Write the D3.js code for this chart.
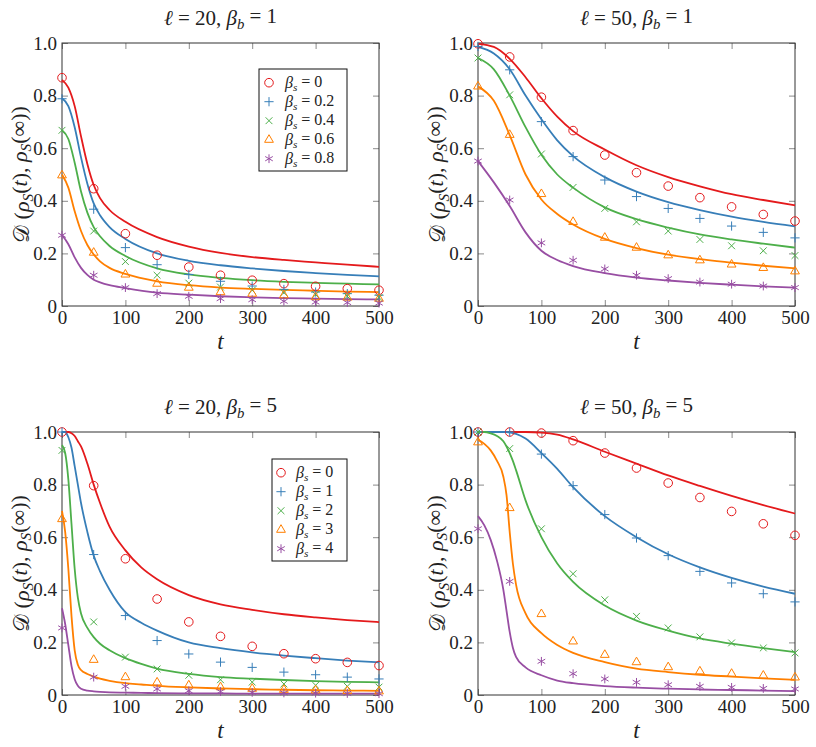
<!DOCTYPE html>
<html>
<head>
<meta charset="utf-8">
<script src="https://cdn.jsdelivr.net/npm/d3@7"></script>
</head>
<body style="margin:0">
<svg id="chart" width="816" height="747"></svg>
<script>
// Times where the simulation markers sit (same for every panel)
var markerT = [0, 50, 100, 150, 200, 250, 300, 350, 400, 450, 500];
var colors = ["#e41a1c", "#377eb8", "#4daf4a", "#ff7f00", "#984ea3"];
var xTicks = [0, 100, 200, 300, 400, 500];
var yTicks = [0, 0.2, 0.4, 0.6, 0.8, 1.0];
var yTickLabels = ["0", "0.2", "0.4", "0.6", "0.8", "1.0"];

// Panel 1: l = 20, beta_b = 1
var p1Beta = ["0", "0.2", "0.4", "0.6", "0.8"];
var p1LineT = [0, 10, 20, 30, 40, 50, 60, 75, 100, 150, 200, 250, 300, 350, 400, 450, 500];
var p1Lines = [
  [0.86, 0.83, 0.76, 0.645, 0.54, 0.46, 0.41, 0.365, 0.32, 0.262, 0.226, 0.202, 0.186, 0.175, 0.166, 0.157, 0.149],
  [0.79, 0.76, 0.68, 0.565, 0.465, 0.39, 0.345, 0.3, 0.255, 0.2, 0.172, 0.155, 0.143, 0.133, 0.125, 0.118, 0.113],
  [0.668, 0.635, 0.545, 0.435, 0.355, 0.3, 0.265, 0.228, 0.19, 0.143, 0.12, 0.107, 0.098, 0.092, 0.088, 0.085, 0.082],
  [0.5, 0.45, 0.36, 0.285, 0.232, 0.196, 0.17, 0.145, 0.122, 0.094, 0.079, 0.07, 0.065, 0.061, 0.058, 0.055, 0.053],
  [0.27, 0.235, 0.185, 0.145, 0.118, 0.1, 0.09, 0.079, 0.068, 0.051, 0.043, 0.037, 0.033, 0.03, 0.028, 0.026, 0.025]
];
var p1Marks = [
  [0.868, 0.446, 0.275, 0.193, 0.148, 0.117, 0.098, 0.085, 0.075, 0.066, 0.06],
  [0.788, 0.368, 0.222, 0.157, 0.12, 0.094, 0.076, 0.063, 0.053, 0.047, 0.041],
  [0.668, 0.285, 0.169, 0.117, 0.087, 0.072, 0.06, 0.051, 0.043, 0.037, 0.032],
  [0.497, 0.203, 0.12, 0.085, 0.07, 0.053, 0.047, 0.041, 0.034, 0.032, 0.028],
  [0.269, 0.117, 0.07, 0.047, 0.037, 0.028, 0.024, 0.018, 0.015, 0.013, 0.011]
];

// Panel 2: l = 50, beta_b = 1
var p2LineT = [0, 25, 50, 75, 100, 125, 150, 200, 250, 300, 350, 400, 450, 500];
var p2Lines = [
  [0.997, 0.985, 0.94, 0.87, 0.79, 0.72, 0.665, 0.595, 0.535, 0.49, 0.455, 0.425, 0.403, 0.383],
  [0.985, 0.96, 0.9, 0.8, 0.71, 0.63, 0.57, 0.49, 0.435, 0.395, 0.365, 0.34, 0.32, 0.303],
  [0.943, 0.9, 0.8, 0.68, 0.575, 0.5, 0.45, 0.375, 0.33, 0.298, 0.272, 0.253, 0.237, 0.222],
  [0.835, 0.78, 0.65, 0.5, 0.405, 0.35, 0.31, 0.255, 0.22, 0.195, 0.178, 0.165, 0.153, 0.143],
  [0.551, 0.47, 0.38, 0.28, 0.21, 0.175, 0.152, 0.125, 0.108, 0.097, 0.088, 0.081, 0.075, 0.07]
];
var p2Marks = [
  [0.997, 0.947, 0.794, 0.667, 0.574, 0.507, 0.456, 0.412, 0.377, 0.348, 0.323],
  [0.987, 0.898, 0.701, 0.568, 0.479, 0.416, 0.371, 0.333, 0.304, 0.28, 0.259],
  [0.943, 0.803, 0.578, 0.451, 0.371, 0.32, 0.285, 0.253, 0.229, 0.21, 0.192],
  [0.835, 0.651, 0.426, 0.32, 0.26, 0.222, 0.193, 0.174, 0.158, 0.145, 0.132],
  [0.551, 0.403, 0.24, 0.174, 0.141, 0.117, 0.104, 0.091, 0.083, 0.076, 0.07]
];

// Panel 3: l = 20, beta_b = 5
var p3Beta = ["0", "1", "2", "3", "4"];
var p3LineT = [0, 5, 10, 15, 20, 25, 30, 40, 50, 60, 75, 100, 125, 150, 200, 250, 300, 350, 400, 450, 500];
var p3Lines = [
  [1.0, 1.0, 1.0, 0.995, 0.985, 0.965, 0.945, 0.88, 0.8, 0.73, 0.64, 0.55, 0.485, 0.44, 0.38, 0.345, 0.324, 0.307, 0.295, 0.285, 0.277],
  [1.0, 1.0, 0.98, 0.94, 0.87, 0.8, 0.73, 0.62, 0.53, 0.47, 0.4, 0.315, 0.275, 0.245, 0.2, 0.178, 0.162, 0.15, 0.14, 0.131, 0.124],
  [0.95, 0.92, 0.82, 0.65, 0.48, 0.37, 0.31, 0.255, 0.22, 0.195, 0.17, 0.14, 0.118, 0.1, 0.08, 0.068, 0.062, 0.057, 0.053, 0.05, 0.048],
  [0.7, 0.62, 0.48, 0.3, 0.17, 0.115, 0.095, 0.08, 0.07, 0.062, 0.054, 0.045, 0.04, 0.035, 0.029, 0.025, 0.022, 0.02, 0.018, 0.017, 0.016],
  [0.33, 0.27, 0.19, 0.11, 0.06, 0.035, 0.024, 0.017, 0.014, 0.012, 0.01, 0.009, 0.008, 0.007, 0.006, 0.006, 0.005, 0.005, 0.005, 0.005, 0.005]
];
var p3Marks = [
  [1.0, 0.796, 0.518, 0.365, 0.278, 0.223, 0.185, 0.157, 0.138, 0.124, 0.112],
  [1.0, 0.534, 0.302, 0.207, 0.156, 0.125, 0.105, 0.087, 0.077, 0.068, 0.061],
  [0.93, 0.278, 0.144, 0.099, 0.075, 0.058, 0.049, 0.042, 0.037, 0.033, 0.03],
  [0.669, 0.134, 0.068, 0.048, 0.037, 0.03, 0.024, 0.02, 0.018, 0.015, 0.014],
  [0.255, 0.068, 0.033, 0.023, 0.016, 0.013, 0.01, 0.008, 0.007, 0.006, 0.005]
];

// Panel 4: l = 50, beta_b = 5
var p4LineT = [0, 10, 20, 30, 40, 45, 50, 55, 60, 75, 100, 125, 150, 200, 250, 300, 350, 400, 450, 500];
var p4Lines = [
  [1, 1, 1, 1, 1, 1, 1, 1, 1, 1, 0.998, 0.99, 0.972, 0.925, 0.88, 0.835, 0.795, 0.757, 0.722, 0.69],
  [1, 1, 1, 1, 1, 1, 0.998, 0.996, 0.993, 0.975, 0.92, 0.86, 0.79, 0.68, 0.6, 0.535, 0.485, 0.445, 0.412, 0.385],
  [1, 1, 0.995, 0.985, 0.965, 0.945, 0.92, 0.89, 0.855, 0.74, 0.6, 0.5, 0.43, 0.34, 0.283, 0.245, 0.215, 0.195, 0.178, 0.163],
  [0.97, 0.955, 0.93, 0.89, 0.83, 0.76, 0.62, 0.5, 0.42, 0.31, 0.235, 0.19, 0.16, 0.125, 0.1, 0.087, 0.077, 0.07, 0.063, 0.058],
  [0.68, 0.645, 0.59, 0.51, 0.4, 0.32, 0.24, 0.18, 0.145, 0.105, 0.075, 0.055, 0.045, 0.034, 0.028, 0.024, 0.021, 0.019, 0.017, 0.015]
];
var p4Marks = [
  [1.0, 1.0, 0.996, 0.967, 0.92, 0.863, 0.806, 0.751, 0.698, 0.651, 0.607],
  [1.0, 1.0, 0.916, 0.796, 0.686, 0.597, 0.53, 0.47, 0.426, 0.385, 0.354],
  [1.0, 0.937, 0.632, 0.461, 0.362, 0.299, 0.255, 0.221, 0.198, 0.179, 0.16],
  [0.961, 0.711, 0.308, 0.204, 0.153, 0.125, 0.106, 0.09, 0.081, 0.074, 0.067],
  [0.632, 0.432, 0.128, 0.081, 0.061, 0.048, 0.039, 0.033, 0.029, 0.025, 0.023]
];

var svg = d3.select("#chart");

// marker shapes: circle, plus, x, triangle, asterisk
function markerPath(k) {
  var p = d3.path();
  if (k === 0) {
    p.moveTo(4.3, 0); p.arc(0, 0, 4.3, 0, 2 * Math.PI);
  } else if (k === 1) {
    p.moveTo(-4.6, 0); p.lineTo(4.6, 0); p.moveTo(0, -4.6); p.lineTo(0, 4.6);
  } else if (k === 2) {
    p.moveTo(-3.4, -3.4); p.lineTo(3.4, 3.4); p.moveTo(-3.4, 3.4); p.lineTo(3.4, -3.4);
  } else if (k === 3) {
    p.moveTo(0, -5); p.lineTo(4.4, 2.6); p.lineTo(-4.4, 2.6); p.closePath();
  } else {
    for (var a = 0; a < 3; a++) {
      var ang = Math.PI / 2 + a * Math.PI / 3;
      p.moveTo(-4.4 * Math.cos(ang), -4.4 * Math.sin(ang));
      p.lineTo(4.4 * Math.cos(ang), 4.4 * Math.sin(ang));
    }
  }
  return p.toString();
}

// every text node gets the serif face directly
function addText(sel, size) {
  return sel.append("text")
    .style("font-family", "Liberation Serif")
    .style("font-size", size + "px")
    .style("fill", "#222");
}

function betaLabel(sel, sub, val) {
  sel.append("tspan").style("font-style", "italic").text("β");
  sel.append("tspan").style("font-style", "italic").style("font-size", "0.7em").attr("dy", "0.25em").text(sub);
  sel.append("tspan").attr("dy", "-0.25em").text(" = " + val);
}

function drawPanel(left, top, ell, betaB, lineT, lines, marks, legend) {
  var w = 317, h = 263;
  var g = svg.append("g").attr("transform", "translate(" + left + "," + top + ")");
  var x = d3.scaleLinear().domain([0, 500]).range([0, w]);
  var y = d3.scaleLinear().domain([0, 1]).range([h, 0]);

  // inner ticks on all four sides
  var axL = g.append("g").call(d3.axisLeft(y).tickValues(yTicks).tickSize(-6).tickPadding(5)
    .tickFormat(function(d, i) { return yTickLabels[i]; }));
  var axB = g.append("g").attr("transform", "translate(0," + h + ")")
    .call(d3.axisBottom(x).tickValues(xTicks).tickSize(-6).tickPadding(5));
  var axR = g.append("g").attr("transform", "translate(" + w + ",0)")
    .call(d3.axisRight(y).tickValues(yTicks).tickSize(-6).tickFormat(""));
  var axT = g.append("g").call(d3.axisTop(x).tickValues(xTicks).tickSize(-6).tickFormat(""));
  [axL, axB, axR, axT].forEach(function(a) {
    a.select(".domain").remove();
    a.selectAll("line").attr("stroke", "#8a8a8a");
    a.selectAll("text")
      .style("font-family", "Liberation Serif")
      .style("font-size", "19px")
      .style("fill", "#222");
  });

  g.append("rect").attr("width", w).attr("height", h)
    .attr("fill", "none").attr("stroke", "#333").attr("stroke-width", 1);

  var line = d3.line()
    .x(function(d, i) { return x(lineT[i]); })
    .y(function(d) { return y(d); })
    .curve(d3.curveMonotoneX);

  lines.forEach(function(vals, k) {
    g.append("path").attr("d", line(vals))
      .attr("fill", "none").attr("stroke", colors[k]).attr("stroke-width", 1.8);
  });

  marks.forEach(function(vals, k) {
    g.selectAll(".m" + k).data(vals).enter().append("path")
      .attr("d", markerPath(k))
      .attr("transform", function(d, i) { return "translate(" + x(markerT[i]) + "," + y(d) + ")"; })
      .attr("fill", "none").attr("stroke", colors[k]).attr("stroke-width", 1);
  });

  // title
  var title = addText(g, 21).attr("x", w / 2).attr("y", -18).attr("text-anchor", "middle");
  title.append("tspan").style("font-style", "italic").text("ℓ");
  title.append("tspan").text(" = " + ell + ",  ");
  betaLabel(title, "b", betaB);

  // axis labels
  addText(g, 23).attr("x", w / 2).attr("y", h + 43)
    .attr("text-anchor", "middle").style("font-style", "italic").text("t");

  var yl = addText(g, 22).attr("transform", "translate(-33," + (h / 2) + ") rotate(-90)")
    .attr("text-anchor", "middle");
  yl.append("tspan").text("𝒟 (");
  yl.append("tspan").style("font-style", "italic").text("ρ");
  yl.append("tspan").style("font-style", "italic").style("font-size", "0.7em").attr("dy", "0.25em").text("S");
  yl.append("tspan").attr("dy", "-0.25em").text("(");
  yl.append("tspan").style("font-style", "italic").text("t");
  yl.append("tspan").text("), ");
  yl.append("tspan").style("font-style", "italic").text("ρ");
  yl.append("tspan").style("font-style", "italic").style("font-size", "0.7em").attr("dy", "0.25em").text("S");
  yl.append("tspan").attr("dy", "-0.25em").text("(∞))");

  if (legend) {
    var lg = g.append("g").attr("transform", "translate(" + legend.x + "," + legend.y + ")");
    lg.append("rect").attr("width", legend.w).attr("height", 102)
      .attr("fill", "#fff").attr("stroke", "#111").attr("stroke-width", 1);
    legend.labels.forEach(function(lab, k) {
      var ry = 13.7 + k * 19;
      lg.append("path").attr("d", markerPath(k))
        .attr("transform", "translate(" + legend.mx + "," + ry + ")")
        .attr("fill", "none").attr("stroke", colors[k]).attr("stroke-width", 1);
      var t = addText(lg, 16).attr("x", legend.tx).attr("y", ry + 5);
      betaLabel(t, "s", lab);
    });
  }
}

drawPanel(62, 43, 20, 1, p1LineT, p1Lines, p1Marks, { x: 197, y: 26, w: 88, mx: 10, tx: 26, labels: p1Beta });
drawPanel(478, 43, 50, 1, p2LineT, p2Lines, p2Marks, null);
drawPanel(62, 432, 20, 5, p3LineT, p3Lines, p3Marks, { x: 210, y: 27, w: 75, mx: 9, tx: 24, labels: p3Beta });
drawPanel(478, 432, 50, 5, p4LineT, p4Lines, p4Marks, null);
</script>
</body>
</html>
